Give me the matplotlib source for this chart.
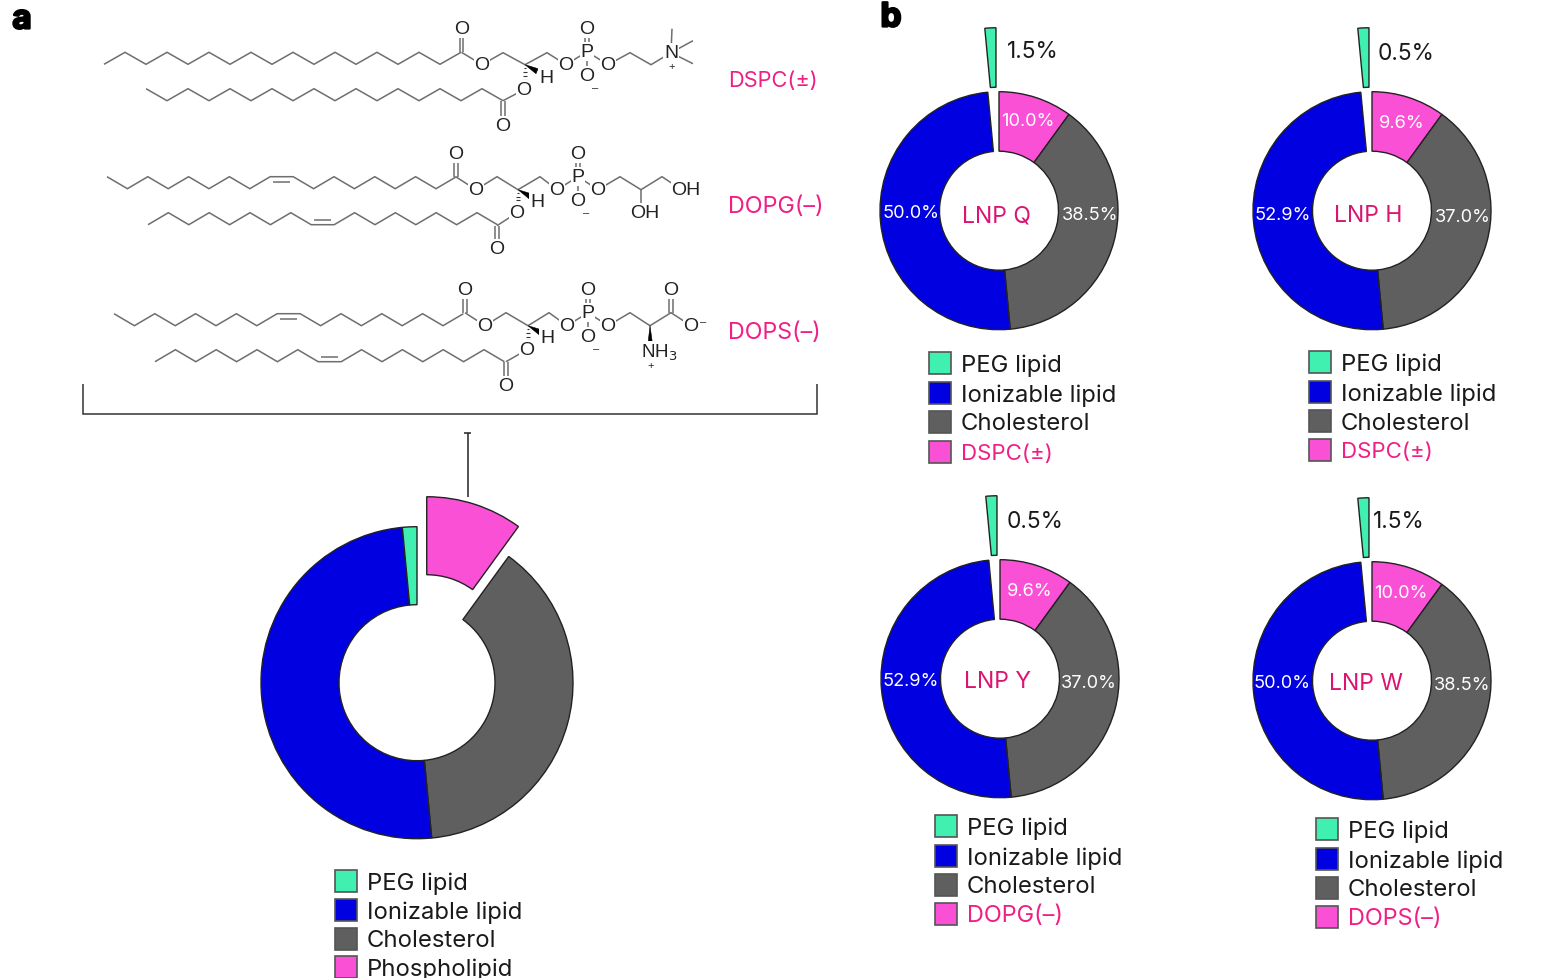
import matplotlib
matplotlib.use("Agg")
import matplotlib.pyplot as plt
import matplotlib.patheffects as pe
from matplotlib.patches import Rectangle, Polygon

# ---- data ----
components = ["Phospholipid", "Cholesterol", "Ionizable lipid", "PEG lipid"]
# the reference draws all five donuts with the same slice sizes
drawn_shares = [10.0, 38.5, 50.0, 1.5]
lnp_names = ["LNP Q", "LNP H", "LNP Y", "LNP W"]
lnp_lipids = ["DSPC(±)", "DSPC(±)", "DOPG(–)", "DOPS(–)"]
labelled_phospholipid = [10.0, 9.6, 9.6, 10.0]
labelled_cholesterol = [38.5, 37.0, 37.0, 38.5]
labelled_ionizable = [50.0, 52.9, 52.9, 50.0]
labelled_peg = [1.5, 0.5, 0.5, 1.5]
legend_order = ["PEG lipid", "Ionizable lipid", "Cholesterol"]

# ---- style ----
COL = {"Phospholipid": "#FA50D6", "Cholesterol": "#5F5F5F",
       "Ionizable lipid": "#0000E0", "PEG lipid": "#40F0B0"}
LIPID_PINK = "#F01F86"
NAME_PINK = "#DB1471"
BOND = "#6E6E6E"
SANS = "Inter"

fig = plt.figure(figsize=(15.55, 9.79), dpi=100)
ax = fig.add_axes([0, 0, 1, 1])


def Y(y):
    return 978.3 - y


def txt(x, y, s, size=15, color="#1a1a1a", ha="center", family=SANS, **kw):
    return ax.text(x, Y(y - 0.7), s, fontsize=size, color=color, ha=ha, va="center_baseline",
                   family=family, **kw)


def donut(cx, cy, r, hole, explode):
    ax.pie(drawn_shares, colors=[COL[c] for c in components], radius=r, center=(cx, Y(cy)),
           startangle=90, counterclock=False, explode=explode,
           wedgeprops=dict(width=r - hole, edgecolor="#222222", linewidth=1.0))


def legend(x, ys, last):
    names = legend_order + [last]
    keys = legend_order + ["Phospholipid"]
    for n, k, y in zip(names, keys, ys):
        ax.add_patch(Rectangle((x, Y(y + 11)), 22, 22, fc=COL[k], ec="#555555", lw=1.2, zorder=3))
        pink = n.startswith("DO") or n.startswith("DS")
        size = 17.2
        if n.startswith("DSPC"):
            size = 16.0
        elif n.startswith("DO"):
            size = 16.9
        txt(x + 32, y, n, size=size, color=LIPID_PINK if pink else "#1a1a1a", ha="left")


# ---- panel a donut ----
donut(417, 683, 156, 78, [31.5, 0, 0, 0])
legend(335, [881, 910, 939, 967], "Phospholipid")

# ---- panel b donuts ----
panels = [
    dict(c=(999, 211), leg=(929, [363, 393, 422, 452]),
         pos=[(1028, 120), (1090, 213), (911, 211), (996, 214), (1033, 50)]),
    dict(c=(1372, 211), leg=(1309, [362, 392, 421, 450]),
         pos=[(1402, 121), (1463, 215), (1283, 213), (1368, 213), (1406, 52)]),
    dict(c=(1000, 679), leg=(935, [826, 856, 885, 914]),
         pos=[(1030, 590), (1089, 681), (911, 680), (997, 680), (1035, 520)]),
    dict(c=(1372, 681), leg=(1316, [829, 859, 888, 917]),
         pos=[(1401, 591), (1462, 683), (1282, 681), (1366, 682), (1399, 520)]),
]
for i, p in enumerate(panels):
    donut(p["c"][0], p["c"][1], 119, 59.5, [0, 0, 0, 64])
    legend(p["leg"][0], p["leg"][1], lnp_lipids[i])
    vals = [labelled_phospholipid[i], labelled_cholesterol[i], labelled_ionizable[i]]
    for v, xy in zip(vals, p["pos"][:3]):
        txt(xy[0], xy[1], f"{v:.1f}%", size=13.1, color="white")
    txt(*p["pos"][3], lnp_names[i], size=16.5, color=NAME_PINK)
    txt(*p["pos"][4], f"{labelled_peg[i]:.1f}%", size=16.4)


# ---- chemical structures (decoration) ----
def line(pts, lw=1.1, color=BOND):
    ax.plot([q[0] for q in pts], [Y(q[1]) for q in pts], color=color, lw=lw,
            solid_joinstyle="miter", solid_capstyle="butt", zorder=2)


def chain(x0, dx, y_first, y_other, n, flat=None, flat_w=23):
    pts = [(x0, y_first)]
    x, at_first = x0, True
    for k in range(n):
        if flat is not None and k == flat:
            x += flat_w
            pts.append((x, pts[-1][1]))
            a, b = pts[-2], pts[-1]
            off = 5 if a[1] == min(y_first, y_other) else -5
            line([(a[0] + 3, a[1] + off), (b[0] - 3, b[1] + off)])
        else:
            x += dx
            at_first = not at_first
            pts.append((x, y_first if at_first else y_other))
    line(pts)
    return pts


def atom(x, y, s, size=14, **kw):
    ax.text(x, Y(y), s, fontsize=size, color="#222222", ha="center", va="center",
            family="Liberation Sans", zorder=4,
            bbox=dict(fc="white", ec="none", pad=0.6), **kw)


def plain(x, y, s, size=9):
    ax.text(x, Y(y), s, fontsize=size, color="#222222", ha="center", va="center",
            family="Liberation Sans", zorder=4)


def double_v(x, y1, y2):
    line([(x - 1.8, y1), (x - 1.8, y2)])
    line([(x + 1.8, y1), (x + 1.8, y2)])


def stereo(cx, cy, hx, hy, ox, oy, tail_x, tail_y):
    # bold wedge to H and hashed bond to the ester O
    ax.add_patch(Polygon([(cx, Y(cy)), (tail_x, Y(tail_y - 3)), (tail_x - 2, Y(tail_y + 2))],
                         fc="black", ec="black", lw=0.4, zorder=3))
    for f in (0.15, 0.3, 0.45, 0.6, 0.75):
        w = 1 + 3 * f
        yy = cy + (oy - cy) * f
        line([(cx - w, yy), (cx + w, yy)], lw=0.8, color="#333333")
    atom(hx, hy, "H")


def head_core(c, o1, e, ch2, ch, ch3, op, p, po, pm, op2, oe, c2, c2o):
    # ester / glycerol / phosphate part common to all three lipids
    line([c, e, ch2, ch, ch3, op, p, op2])
    line([p, pm])
    double_v(c[0], c[1], o1[1])
    double_v(p[0], p[1], po[1])
    line([oe, c2])
    double_v(c2[0], c2[1], c2o[1])
    for q in (o1, e, op, po, pm, op2, oe, c2o):
        atom(q[0], q[1], "O")
    atom(p[0], p[1], "P")
    plain(pm[0] + 8, pm[1] + 11, "–", 8)


# DSPC
chain(104, 21, 64.6, 52.6, 17)
chain(146, 21, 89, 101, 17)
head_core((461.5, 52.6), (461.5, 29), (482, 65), (503, 53), (525, 65), (547, 53), (566, 65),
          (587, 52), (587, 29), (587, 76), (608, 65), (524, 90), (503, 101), (503, 126))
stereo(525, 65, 546, 78, 524, 90, 538, 72)
line([(608, 65), (630, 53), (651, 65), (671, 53)])
line([(671, 53), (672, 29)])
line([(671, 53), (693, 41)])
line([(671, 53), (693, 64)])
atom(671, 53, "N")
plain(672, 66, "+", 8)

# DOPG
chain(107, 20.4, 177, 189, 17, flat=8)
chain(148, 20.4, 225, 213, 17, flat=8)
head_core((455.7, 177), (455.7, 154), (476, 190), (497, 177), (518, 190), (540, 177), (557, 190),
          (578, 177), (578, 154), (578, 201), (598, 190), (517, 213), (497, 226), (497, 249))
stereo(518, 190, 537, 202, 517, 213, 531, 197)
line([(598, 190), (620, 177), (641, 190), (662, 177), (680, 189)])
line([(641, 190), (641, 208)])
atom(686, 190, "OH")
atom(645, 213, "OH")

# DOPS
chain(114, 20.4, 314, 326, 17, flat=8)
chain(155, 20.4, 362, 350, 17, flat=8)
head_core((465, 313), (465, 290), (485, 326), (506, 313), (528, 326), (549, 313), (567, 326),
          (588, 313), (588, 290), (588, 337), (608, 326), (527, 350), (506, 362), (506, 386))
stereo(528, 326, 547, 338, 527, 350, 541, 333)
line([(608, 326), (630, 313), (650, 326), (671, 313), (691, 326)])
double_v(671, 313, 290)
atom(671, 290, "O")
atom(691, 326, "O")
plain(703, 321, "–", 8)
ax.add_patch(Polygon([(650, Y(326)), (648, Y(344)), (652.5, Y(344))], fc="black", ec="black", lw=0.4, zorder=3))
atom(659, 352, "NH$_3$", size=13.5)
plain(651, 365, "+", 8)

txt(728, 79, "DSPC(±)", size=15.7, color=LIPID_PINK, ha="left")
txt(728, 205, "DOPG(–)", size=16.8, color=LIPID_PINK, ha="left")
txt(728, 330, "DOPS(–)", size=16.7, color=LIPID_PINK, ha="left")

# bracket and stem
line([(83, 384), (83, 414), (817, 414), (817, 384)], lw=1.1, color="#333333")
line([(467.5, 433), (467.5, 497)], lw=1.1, color="#222222")
line([(464, 433), (471, 433)], lw=1.1, color="#222222")

# panel letters
stroke = [pe.withStroke(linewidth=1.6, foreground="black")]
txt(22, 17, "a", size=24, color="black", weight="bold", path_effects=stroke)
txt(891, 15, "b", size=24, color="black", weight="bold", path_effects=stroke)

ax.set_xlim(0, 1555)
ax.set_ylim(0, 979)
ax.set_aspect("auto")
ax.axis("off")
fig.savefig("out.png", dpi=100)
